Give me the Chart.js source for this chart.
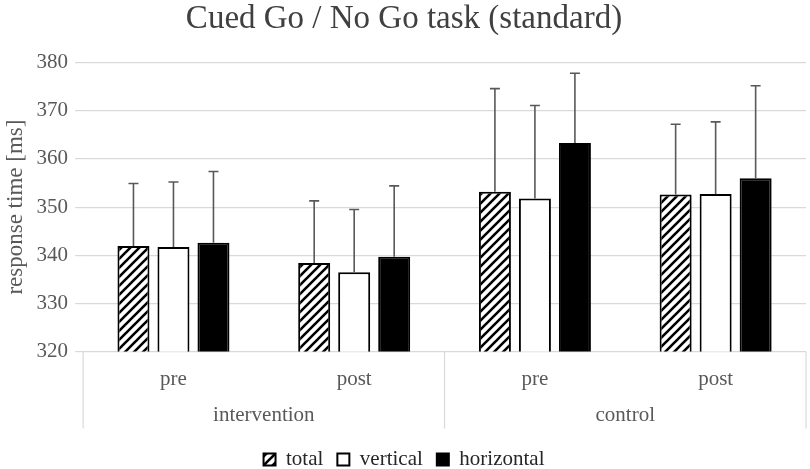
<!DOCTYPE html>
<html>
<head>
<meta charset="utf-8">
<script src="https://cdn.jsdelivr.net/npm/chart.js@4.4.1/dist/chart.umd.min.js"></script>
<style>
  html, body { margin: 0; padding: 0; background: #fff; }
  #wrap { width: 810px; height: 469px; }
</style>
</head>
<body>
<div id="wrap"><canvas id="chart" width="810" height="469"></canvas></div>
<script>
// data
const categories = ['pre', 'post', 'pre', 'post'];
const groups = ['intervention', 'control'];
const total = [341.9, 338.4, 353.2, 352.6];
const vertical = [341.7, 336.5, 351.8, 352.7];
const horizontal = [342.6, 339.7, 363.3, 356.0];
const totalSd = [13.0, 12.9, 21.4, 14.6];
const verticalSd = [13.5, 13.0, 19.3, 15.0];
const horizontalSd = [14.8, 14.7, 14.5, 19.2];
const yTicks = [320, 330, 340, 350, 360, 370, 380];

const GRAY = '#595959';
const SERIF = "'Liberation Serif', 'Times New Roman', serif";

// diagonal hatch for "total"
function makeHatch() {
    const c = document.createElement('canvas');
    c.width = 9; c.height = 9;
    const g = c.getContext('2d');
    g.fillStyle = '#fff';
    g.fillRect(0, 0, 9, 9);
    g.strokeStyle = '#000';
    g.lineWidth = 2.6;
    g.beginPath();
    g.moveTo(-1, 10); g.lineTo(10, -1);
    g.moveTo(-1, 1); g.lineTo(1, -1);
    g.moveTo(8, 10); g.lineTo(10, 8);
    g.stroke();
    return g.createPattern(c, 'repeat');
}
const hatch = makeHatch();

const sds = [totalSd, verticalSd, horizontalSd];

const errorBars = {
    id: 'errorBars',
    afterDatasetsDraw(chart) {
        const ctx = chart.ctx;
        const y = chart.scales.y;
        ctx.save();
        ctx.strokeStyle = GRAY;
        ctx.lineWidth = 1.6;
        chart.data.datasets.forEach((ds, i) => {
            const meta = chart.getDatasetMeta(i);
            meta.data.forEach((bar, j) => {
                const top = y.getPixelForValue(ds.data[j] + sds[i][j]);
                ctx.beginPath();
                ctx.moveTo(bar.x, bar.y);
                ctx.lineTo(bar.x, top);
                ctx.moveTo(bar.x - 5, top);
                ctx.lineTo(bar.x + 5, top);
                ctx.stroke();
            });
        });
        ctx.restore();
    }
};

// vertical separators under the axis (group boundaries)
const separators = {
    id: 'separators',
    afterDraw(chart) {
        const ctx = chart.ctx;
        const x = chart.scales.x;
        const bottom = chart.chartArea.bottom;
        const mid = (x.getPixelForValue(1) + x.getPixelForValue(2)) / 2;
        ctx.save();
        ctx.strokeStyle = '#d9d9d9';
        ctx.lineWidth = 1.2;
        [x.left, mid, x.right].forEach(px => {
            ctx.beginPath();
            ctx.moveTo(px, bottom);
            ctx.lineTo(px, bottom + 77);
            ctx.stroke();
        });
        ctx.restore();
    }
};

new Chart(document.getElementById('chart'), {
    type: 'bar',
    data: {
        labels: categories,
        datasets: [
            { label: 'total', data: total, backgroundColor: hatch, borderColor: '#000', borderWidth: 2 },
            { label: 'vertical', data: vertical, backgroundColor: '#fff', borderColor: '#000', borderWidth: 2 },
            { label: 'horizontal', data: horizontal, backgroundColor: '#000', borderColor: '#000', borderWidth: 2 }
        ]
    },
    options: {
        responsive: false,
        animation: false,
        devicePixelRatio: 1,
        categoryPercentage: 0.664,
        barPercentage: 0.8,
        layout: { padding: { left: 2, right: 4, top: 0, bottom: -11 } },
        plugins: {
            title: {
                display: true,
                text: 'Cued Go / No Go task (standard)',
                color: '#404040',
                font: { family: SERIF, size: 33, weight: 'normal' },
                padding: { top: 0, bottom: 23 }
            },
            legend: {
                position: 'bottom',
                labels: {
                    color: '#262626',
                    font: { family: SERIF, size: 21 },
                    boxWidth: 12,
                    boxHeight: 12,
                    padding: 14
                }
            },
            tooltip: { enabled: false }
        },
        scales: {
            x: {
                grid: { display: false },
                border: { display: false },
                ticks: { color: GRAY, font: { family: SERIF, size: 21 }, padding: 7 }
            },
            x2: {
                type: 'category',
                labels: groups,
                offset: true,
                position: 'bottom',
                grid: { display: false, tickLength: 4 },
                border: { display: false },
                ticks: { color: GRAY, font: { family: SERIF, size: 21 }, padding: 0 },
                afterFit: (s) => { s.height += 7; }
            },
            y: {
                min: 320,
                max: 380,
                afterBuildTicks: (s) => { s.ticks = yTicks.map(v => ({ value: v })); },
                grid: { color: '#d9d9d9', lineWidth: 1.2 },
                border: { display: false },
                ticks: { color: GRAY, font: { family: SERIF, size: 21 }, padding: 7 },
                title: {
                    display: true,
                    text: 'response time [ms]',
                    color: GRAY,
                    font: { family: SERIF, size: 23 },
                    padding: 0
                }
            }
        }
    },
    plugins: [errorBars, separators]
});
</script>
</body>
</html>
